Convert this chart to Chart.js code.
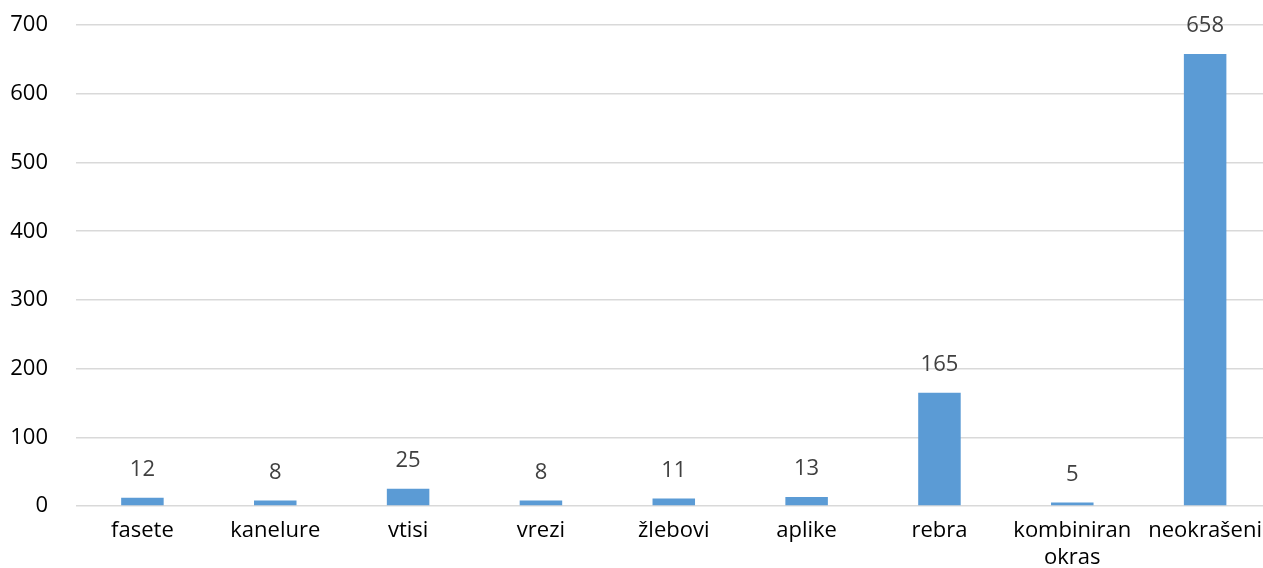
<!DOCTYPE html>
<html lang="sl">
<head>
    <meta charset="UTF-8">
    <title>Okras</title>
    <script src="https://cdn.jsdelivr.net/npm/chart.js@4.4.1/dist/chart.umd.min.js"></script>
</head>
<style>
    html, body {
        margin: 0;
        padding: 0;
        background: #fff;
        overflow: hidden;
    }
    #wrap {
        width: 1274px;
        height: 584px;
        margin-top: -16px;
    }
</style>
<body>
    <div id="wrap"><canvas id="chart"></canvas></div>
</body>
<script>
    const categories = ['fasete', 'kanelure', 'vtisi', 'vrezi', 'žlebovi', 'aplike', 'rebra', ['kombiniran', 'okras'], 'neokrašeni'];
    const counts = [12, 8, 25, 8, 11, 13, 165, 5, 658];
    const yTicks = [0, 100, 200, 300, 400, 500, 600, 700];

    const font = { family: "'Open Sans', 'Segoe UI', sans-serif", size: 22 };

    // value above every bar
    const barValues = {
        id: 'barValues',
        afterDatasetsDraw(chart) {
            const c = chart.ctx;
            const meta = chart.getDatasetMeta(0);
            c.save();
            c.font = font.size + 'px ' + font.family;
            c.fillStyle = '#404040';
            c.textAlign = 'center';
            c.textBaseline = 'middle';
            meta.data.forEach((bar, i) => {
                c.fillText(String(counts[i]), bar.x, bar.y - 28);
            });
            c.restore();
        }
    };

    const ctx = document.getElementById('chart').getContext('2d');
    new Chart(ctx, {
        type: 'bar',
        data: {
            labels: categories,
            datasets: [{
                data: counts,
                backgroundColor: '#5B9BD5',
                barPercentage: 0.32,
                categoryPercentage: 1.0
            }]
        },
        options: {
            responsive: true,
            maintainAspectRatio: false,
            animation: false,
            layout: { padding: { left: 0, right: 0, top: 0, bottom: 0 } },
            plugins: {
                legend: { display: false },
                tooltip: { enabled: false }
            },
            scales: {
                x: {
                    grid: { display: false, drawTicks: false },
                    border: { display: false },
                    ticks: { color: '#000', font: font, padding: 12, maxRotation: 0, autoSkip: false },
                    afterFit: axis => { axis.height = 62; }
                },
                y: {
                    min: 0,
                    max: 700,
                    afterBuildTicks: axis => { axis.ticks = yTicks.map(v => ({ value: v })); },
                    grid: { color: '#d9d9d9', lineWidth: 1.6, drawTicks: false },
                    border: { display: false },
                    ticks: { color: '#000', font: font, padding: 28 },
                    afterFit: axis => { axis.width = 76; }
                }
            }
        },
        plugins: [barValues]
    });
</script>
</html>
